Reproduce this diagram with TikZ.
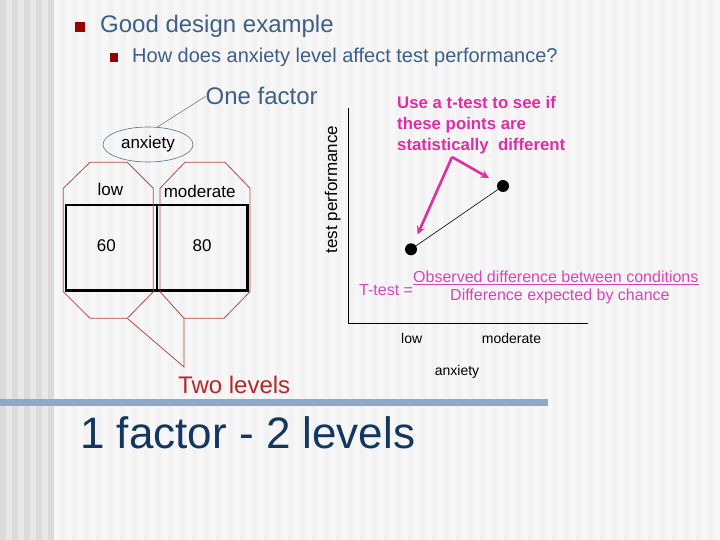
\documentclass[tikz,border=0pt]{standalone}
\usepackage{fontspec}
\setmainfont{Liberation Sans}
\usetikzlibrary{shapes.geometric}
\definecolor{titleblue}{RGB}{62,95,134}
\definecolor{navy}{RGB}{17,55,97}
\definecolor{barblue}{RGB}{143,168,196}
\definecolor{bulletred}{RGB}{153,0,0}
\definecolor{levelred}{RGB}{185,70,68}
\definecolor{darkred}{RGB}{180,40,40}
\definecolor{hotpink}{RGB}{225,45,165}
\definecolor{softpink}{RGB}{215,70,185}
\definecolor{ellblue}{RGB}{80,110,140}
\begin{document}
\begin{tikzpicture}[x=1pt, y=-1pt,
    bullet_sq/.style={rectangle, fill=bulletred, inner sep=0pt},
    txt/.style={inner sep=0pt, anchor=base},
    txt_w/.style={inner sep=0pt, anchor=base west},
    table_txt/.style={txt, font=\fontsize{17}{20}\selectfont},
    axis_txt/.style={txt, font=\fontsize{14}{17}\selectfont},
    formula_txt/.style={txt_w, color=softpink, font=\fontsize{16}{19}\selectfont},
    level_line/.style={draw=levelred, line width=0.8pt},
    callout/.style={->, >=stealth, line width=2.6pt, color=hotpink, shorten >=10pt},
    dot/.style={circle, fill=black, inner sep=0pt, minimum size=12pt}
]
\useasboundingbox (0,0) rectangle (720,540);
\fill[black!9] (0,0) rectangle (720,540);
\fill[black!3] (54,0) rectangle (720,540);
\foreach \x in {0,12,...,48}
    \fill[black!14] (\x,0) rectangle ++(6,540);
\foreach \x in {60,72,...,714}
    \fill[black!5] (\x,0) rectangle ++(6,540);
\fill[barblue] (0,399) rectangle (548,405.5);

\node[bullet_sq, minimum size=10pt] (b1) at (80,27) {};
\node[txt_w, color=titleblue, font=\fontsize{24}{28}\selectfont] (title) at (100,33) {Good design example};
\node[bullet_sq, minimum size=8.5pt] (b2) at (114,57.5) {};
\node[txt_w, color=titleblue, font=\fontsize{20}{24}\selectfont] (question) at (132,63) {How does anxiety level affect test performance?};

\node[txt_w, color=titleblue, font=\fontsize{24}{28}\selectfont] (onefactor) at (205.5,105) {One factor};
\node[ellipse, draw=ellblue, line width=0.6pt, minimum width=90pt, minimum height=35pt, inner sep=0pt,
    font=\fontsize{17}{20}\selectfont] (anx) at (148,144.5) {anxiety};
\draw[ellblue, line width=0.5pt] (anx.62) -- (onefactor.west);

\draw[line width=2.5pt] (66,205) rectangle (247.5,290.5);
\draw[line width=2.5pt] (157,205) -- (157,290.5);
\node[table_txt] (low) at (110.3,196) {low};
\node[table_txt] (mod) at (199.7,197) {moderate};
\node[table_txt] (v60) at (106.3,251.5) {60};
\node[table_txt] (v80) at (202,251.5) {80};

\draw[level_line] (63.3,188.3) -- (90,162.3) -- (127.3,162.3) -- (153.3,188.3) -- (153.3,291.7)
    -- (127.3,318.3) coordinate (lowtip) -- (90,318.3) -- (63.3,291.7) -- cycle;
\draw[level_line] (160,188.3) -- (185,162.3) -- (225,162.3) -- (250,188.3) -- (250,291.7)
    -- (224,318.3) -- (184,318.3) coordinate (modtip) -- (160,291.7) -- cycle;
\coordinate (twotip) at (184,367);
\draw[level_line] (lowtip) -- (twotip) -- (modtip);
\node[txt_w, color=darkred, font=\fontsize{24}{28}\selectfont] (twolevels) at (178,393) {Two levels};

\node[txt_w, color=navy, font=\fontsize{44}{50}\selectfont] (subtitle) at (80,448) {1 factor - 2 levels};

\draw[line width=0.8pt] (348,108) -- (348,323.3) -- (588,323.3);
\node[txt, rotate=90, font=\fontsize{17}{20}\selectfont] (yaxis) at (337,189.5) {test performance};
\node[axis_txt] (xlow) at (411.7,343.3) {low};
\node[axis_txt] (xmod) at (511.5,343.3) {moderate};
\node[axis_txt] (xanx) at (457,375) {anxiety};

\node[dot] (ptlow) at (411,249.3) {};
\node[dot] (pthigh) at (503,186) {};
\draw[line width=0.6pt] (ptlow) -- (pthigh);

\node[inner sep=0pt, anchor=north west, align=left, color=hotpink,
    font=\bfseries\fontsize{16.8}{21.3}\selectfont] (note) at (397,96)
    {Use a t-test to see if\\these points are\\statistically\ \ different};
\coordinate (apex) at (452,157);
\draw[callout] (apex) -- (ptlow);
\draw[callout] (apex) -- (pthigh);

\node[formula_txt] (tlabel) at (359,295) {T-test =};
\node[formula_txt] (numer) at (413,282.5) {Observed difference between conditions};
\node[formula_txt] (denom) at (450,300) {Difference expected by chance};
\draw[softpink, line width=1.2pt] ([yshift=-2pt]numer.base west) -- ([yshift=-2pt]numer.base east);
\end{tikzpicture}
\end{document}
